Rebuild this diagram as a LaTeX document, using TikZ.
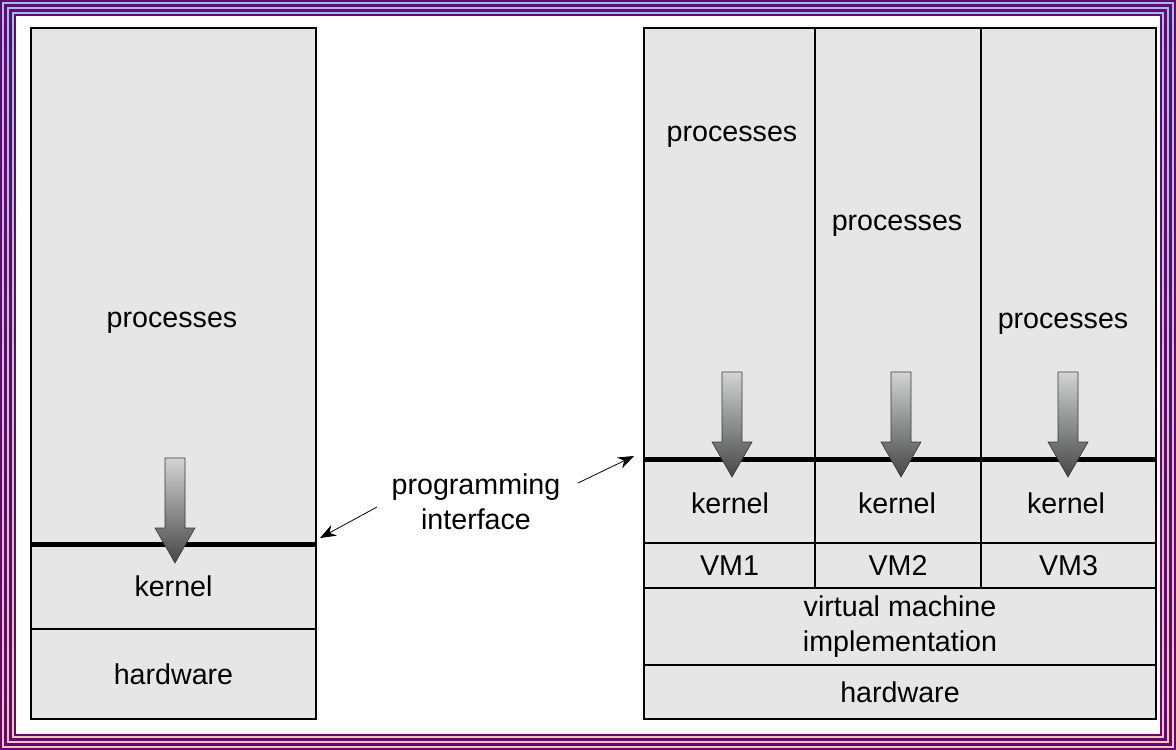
\documentclass[tikz,border=0pt]{standalone}
\usepackage{fontspec}
\setmainfont{Liberation Sans}
\usetikzlibrary{arrows.meta}
\newdimen\pxu \pxu=0.02cm
\definecolor{boxgray}{RGB}{230,230,230}
\definecolor{frpurple}{RGB}{104,6,110}
\definecolor{frblue}{RGB}{150,192,240}
\definecolor{frpeach}{RGB}{238,200,185}
\definecolor{arrtop}{RGB}{210,212,212}
\definecolor{arrbot}{RGB}{70,70,70}
\newcommand\lblfont{\fontsize{16.3}{19.8}\selectfont}
\newcommand\bigdownarrow[2]{%
  \shade[top color=arrtop, bottom color=arrbot, draw=arrbot!80!black, line width=0.6\pxu]
    ({#1-10},#2) -- ({#1+10},#2) -- ({#1+10},{#2+70}) -- ({#1+20},{#2+70})
    -- (#1,{#2+105}) -- ({#1-20},{#2+70}) -- ({#1-10},{#2+70}) -- cycle;}
\begin{document}
\begin{tikzpicture}[x=0.02cm,y=-0.02cm,
  blk/.style={draw=black, line width=2\pxu, fill=boxgray, inner sep=0pt, anchor=north west, font=\lblfont, text=black},
  txt/.style={font=\lblfont, text=black, inner sep=0pt, align=center},
  divider/.style={line width=5\pxu, line cap=butt},
  ptr/.style={line width=0.8\pxu, -{Stealth[length=0.32cm, width=0.24cm]}},
  stripe/.style={draw=frpurple}]
\useasboundingbox (0,0) rectangle (1176,750);
% frame
\shade[top color=frblue, bottom color=frpeach] (0,0) rectangle (1176,750);
\draw[stripe, line width=2\pxu] (1,1) rectangle (1175,749);
\draw[stripe, line width=3\pxu] (5.5,5.5) rectangle (1170.5,744.5);
\draw[stripe, line width=3\pxu] (10.5,10.5) rectangle (1165.5,739.5);
\draw[stripe, line width=2\pxu] (15,15) rectangle (1161,735);
\fill[white] (16,16) rectangle (1160,734);
% left stack
\node[blk, minimum width=285\pxu, minimum height=515\pxu] (lproc) at (30,27) {};
\node[blk, minimum width=285\pxu, minimum height=86\pxu] (lker) at (30,542) {kernel};
\node[blk, minimum width=285\pxu, minimum height=90\pxu] (lhw) at (30,628) {hardware};
\node[txt] (lproctxt) at (172,323) {processes};
\draw[divider] (lproc.south west) -- (lproc.south east);
\bigdownarrow{175}{458}
% right stack
\node[blk, minimum width=171\pxu, minimum height=430\pxu] (p1) at (643,27) {};
\node[blk, minimum width=166\pxu, minimum height=430\pxu] (p2) at (814,27) {};
\node[blk, minimum width=175\pxu, minimum height=430\pxu] (p3) at (980,27) {};
\node[blk, minimum width=171\pxu, minimum height=85\pxu] (k1) at (643,457) {};
\node[blk, minimum width=166\pxu, minimum height=85\pxu] (k2) at (814,457) {};
\node[blk, minimum width=175\pxu, minimum height=85\pxu] (k3) at (980,457) {};
\node[blk, minimum width=171\pxu, minimum height=45\pxu] (v1) at (643,542) {VM1};
\node[blk, minimum width=166\pxu, minimum height=45\pxu] (v2) at (814,542) {VM2};
\node[blk, minimum width=175\pxu, minimum height=45\pxu] (v3) at (980,542) {VM3};
\node[blk, minimum width=512\pxu, minimum height=77\pxu, align=center] (vmi) at (643,587) {virtual machine\\implementation};
\node[blk, minimum width=512\pxu, minimum height=54\pxu] (rhw) at (643,664) {hardware};
\node[txt] (p1txt) at (732,137) {processes};
\node[txt] (p2txt) at (897,226) {processes};
\node[txt] (p3txt) at (1063,324) {processes};
\node[txt] (k1txt) at (730,503) {kernel};
\node[txt] (k2txt) at (897,503) {kernel};
\node[txt] (k3txt) at (1066,503) {kernel};
\draw[divider] (p1.south west) -- (p3.south east);
\bigdownarrow{732}{372}
\bigdownarrow{901}{372}
\bigdownarrow{1068}{372}
% programming interface
\node[txt] (pi) at (476,502) {programming\\interface};
\coordinate (pia) at (377,507);
\coordinate (pib) at (578,483);
\coordinate (lend) at (320,538);
\coordinate (rend) at (634,456);
\draw[ptr] (pia) -- (lend);
\draw[ptr] (pib) -- (rend);
\end{tikzpicture}
\end{document}
